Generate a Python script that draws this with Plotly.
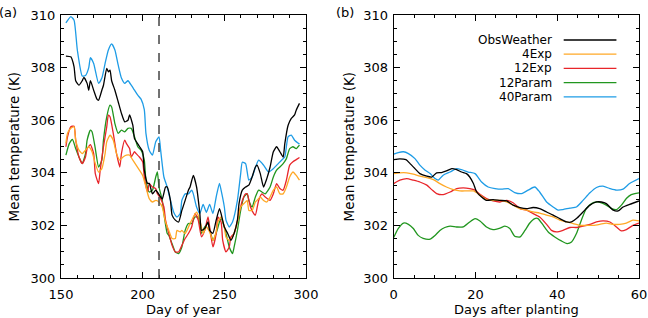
import plotly.graph_objects as go

# ---------------- data: panel (a) ----------------
series_names = ["ObsWeather", "4Exp", "12Exp", "12Param", "40Param"]
series_colors = ["#000000", "#FFA826", "#E8252A", "#21961F", "#1E9CE6"]

obs_day = [153, 156, 158, 159, 161, 163, 164, 166, 167, 168, 170, 172, 173, 175, 176, 178, 179, 180, 181, 183, 185, 187, 189, 191, 192, 194, 195, 197, 198, 200, 201, 203, 204, 206, 208, 209, 211, 212, 214, 215, 217, 218, 220, 222, 224, 226, 228, 229, 231, 233, 235, 236, 238, 240, 241, 243, 245, 247, 248, 250, 252, 254, 256, 258, 259, 261, 263, 265, 267, 269, 270, 272, 274, 276, 278, 280, 282, 284, 286, 287, 289, 291, 293, 294, 296]
obs_val = [308.44, 308.41, 308.03, 307.5, 307.33, 307.5, 307.63, 307.4, 307.14, 307.5, 307.14, 306.8, 306.76, 307.14, 307.33, 307.97, 307.84, 307.9, 307.5, 307.14, 306.7, 306.26, 305.94, 306.0, 306.2, 305.8, 305.3, 305.1, 305.0, 304.8, 304.1, 303.6, 303.6, 303.2, 303.34, 303.27, 303.08, 303.0, 303.46, 303.46, 302.95, 302.39, 302.2, 302.13, 302.57, 302.95, 303.34, 303.46, 303.9, 303.46, 302.45, 301.81, 301.88, 302.13, 301.81, 301.7, 302.2, 302.64, 302.45, 301.94, 301.7, 301.43, 301.7, 302.2, 302.83, 303.34, 303.46, 303.53, 303.84, 304.22, 304.29, 303.97, 303.46, 303.78, 304.22, 304.8, 304.99, 304.8, 304.6, 305.1, 305.8, 306.07, 306.2, 306.38, 306.64]

exp4_day = [153, 154, 156, 158, 159, 161, 163, 165, 167, 169, 171, 173, 175, 177, 178, 180, 182, 184, 186, 188, 190, 192, 194, 196, 198, 200, 202, 204, 206, 208, 210, 212, 214, 216, 218, 220, 221, 223, 224, 226, 229, 231, 233, 235, 237, 239, 241, 243, 245, 246, 248, 250, 251, 253, 255, 258, 260, 262, 264, 265, 267, 269, 270, 272, 274, 276, 278, 280, 282, 284, 286, 288, 290, 292, 294, 296]
exp4_val = [305.12, 305.5, 305.69, 305.75, 305.24, 304.86, 304.73, 304.86, 304.99, 304.8, 304.35, 304.03, 304.16, 304.73, 305.18, 305.43, 305.24, 304.73, 304.48, 304.6, 304.67, 304.67, 304.48, 304.29, 304.1, 303.9, 303.46, 303.02, 302.89, 302.95, 302.89, 302.7, 302.13, 301.81, 301.5, 301.5, 301.81, 301.75, 301.81, 301.69, 302.07, 302.32, 302.5, 302.2, 301.69, 301.94, 301.75, 301.43, 301.75, 302.13, 302.32, 301.94, 301.56, 301.43, 301.56, 302.13, 302.7, 302.83, 302.95, 302.57, 302.57, 302.89, 302.95, 303.08, 302.95, 302.89, 303.08, 303.34, 303.46, 303.2, 303.2, 303.46, 303.84, 304.03, 303.9, 303.72]

exp12_day = [153, 154, 156, 158, 159, 161, 163, 165, 166, 168, 170, 171, 173, 174, 176, 178, 179, 180, 182, 184, 186, 187, 189, 190, 192, 193, 195, 196, 198, 200, 201, 203, 204, 206, 208, 209, 211, 213, 214, 216, 218, 220, 222, 224, 226, 228, 230, 232, 234, 236, 238, 240, 241, 243, 245, 246, 248, 249, 251, 253, 254, 256, 259, 261, 263, 264, 266, 268, 269, 271, 273, 275, 278, 280, 282, 284, 286, 288, 290, 292, 294, 296]
exp12_val = [304.99, 305.37, 305.75, 305.77, 305.24, 304.6, 304.35, 304.6, 304.92, 305.07, 304.73, 303.97, 303.59, 304.1, 304.99, 305.75, 306.19, 306.13, 305.5, 304.73, 304.22, 304.73, 305.24, 305.12, 304.92, 304.6, 304.8, 304.73, 304.6, 304.42, 303.84, 303.27, 303.59, 303.46, 303.4, 303.2, 303.02, 302.7, 302.2, 301.69, 301.24, 300.99, 300.99, 301.24, 301.5, 301.69, 301.94, 302.45, 302.2, 301.56, 301.81, 302.32, 301.94, 301.18, 301.69, 302.32, 302.13, 301.43, 300.99, 301.18, 301.56, 301.69, 302.45, 302.95, 303.2, 303.2, 302.7, 302.45, 302.39, 302.95, 303.2, 303.08, 302.95, 303.2, 303.59, 303.4, 303.34, 303.72, 304.29, 304.42, 304.5, 304.58]

par12_day = [153, 155, 157, 159, 161, 163, 165, 166, 168, 169, 171, 173, 175, 176, 178, 180, 181, 183, 185, 187, 189, 191, 193, 195, 197, 199, 201, 202, 204, 206, 208, 209, 210, 212, 213, 215, 216, 218, 220, 222, 224, 226, 228, 230, 232, 234, 236, 238, 240, 242, 243, 245, 247, 248, 250, 251, 253, 255, 256, 258, 260, 262, 264, 265, 267, 269, 271, 273, 275, 278, 280, 282, 284, 286, 288, 290, 292, 294, 296]
par12_val = [304.67, 305.1, 305.27, 304.92, 304.6, 304.35, 304.73, 305.24, 305.62, 305.56, 304.92, 304.22, 304.48, 305.24, 306.13, 306.57, 306.5, 305.87, 305.5, 305.62, 305.56, 305.69, 305.69, 305.37, 304.99, 304.86, 304.48, 303.72, 303.27, 303.34, 303.84, 304.03, 303.46, 302.95, 302.45, 301.7, 301.62, 301.3, 300.99, 300.93, 301.18, 301.81, 302.07, 302.07, 302.32, 302.32, 301.7, 301.94, 302.07, 301.62, 301.43, 301.7, 302.13, 302.26, 301.94, 301.7, 301.18, 300.93, 301.18, 301.81, 302.57, 303.08, 303.2, 302.95, 302.7, 303.08, 303.34, 303.27, 303.2, 303.46, 303.84, 304.1, 304.22, 304.35, 304.54, 304.92, 304.99, 304.92, 305.05]

par40_day = [153, 156, 158, 160, 163, 165, 167, 168, 170, 173, 175, 177, 179, 181, 183, 185, 187, 189, 191, 193, 195, 197, 199, 201, 202, 204, 206, 208, 210, 211, 213, 215, 217, 219, 221, 223, 224, 226, 228, 230, 231, 233, 235, 237, 239, 241, 243, 245, 247, 248, 250, 251, 253, 255, 258, 260, 261, 263, 265, 267, 269, 271, 274, 277, 280, 283, 285, 287, 289, 291, 293, 296]
par40_val = [309.7, 309.94, 309.8, 308.67, 307.68, 307.7, 308.0, 308.38, 308.16, 307.4, 307.6, 308.16, 308.67, 308.9, 308.67, 308.1, 307.6, 307.4, 307.5, 307.33, 307.14, 306.95, 306.8, 306.4, 305.5, 304.86, 304.67, 305.18, 305.37, 304.86, 303.84, 303.46, 302.95, 302.5, 302.32, 302.45, 302.95, 303.2, 303.2, 303.34, 303.2, 302.7, 302.45, 302.8, 302.5, 302.8, 302.45, 303.08, 303.6, 303.34, 302.7, 302.2, 301.94, 302.13, 302.95, 303.97, 304.4, 304.35, 303.72, 303.84, 304.2, 304.48, 304.29, 304.03, 304.16, 304.35, 304.48, 304.6, 305.37, 305.43, 305.24, 305.09]

# ---------------- data: panel (b) ----------------
b_obs_day = [0, 1.5, 3, 4, 5.2, 6.4, 8.1, 9.3, 10.5, 11.7, 12.9, 14.2, 15.4, 16.6, 17.8, 18.6, 19.5, 20.3, 21.5, 22.7, 24.3, 26, 27.6, 29.2, 30.9, 32.5, 34.1, 35.7, 37.4, 39, 40.6, 42.3, 43.5, 44.7, 46.3, 48, 49.6, 50.8, 52, 53.7, 54.9, 56.1, 57.7, 60]
b_obs_val = [304.5, 304.53, 304.5, 304.35, 304.16, 303.97, 303.87, 303.84, 304.0, 304.01, 304.07, 304.16, 304.12, 304.03, 303.97, 303.84, 303.59, 303.27, 303.08, 302.95, 302.98, 302.95, 302.93, 302.77, 302.68, 302.64, 302.68, 302.64, 302.51, 302.39, 302.26, 302.13, 302.13, 302.26, 302.51, 302.77, 302.89, 302.89, 302.83, 302.58, 302.55, 302.7, 302.8, 302.93]

b_exp4_day = [0, 1.5, 3.2, 4.8, 6.4, 8.1, 9.7, 11.3, 12.9, 14.6, 16.2, 17.8, 19.5, 21.1, 22.7, 24.3, 26, 27.6, 29.2, 30.9, 32.5, 34.1, 35.7, 37.4, 39, 40.6, 42.3, 43.9, 45.5, 47.2, 48.8, 50.4, 52, 53.7, 55.3, 56.9, 58.5, 60]
b_exp4_val = [303.97, 304.0, 304.0, 303.95, 303.87, 303.82, 303.74, 303.59, 303.46, 303.36, 303.31, 303.31, 303.31, 303.15, 302.98, 302.95, 302.95, 302.89, 302.77, 302.64, 302.58, 302.51, 302.47, 302.39, 302.32, 302.2, 302.13, 302.07, 302.0, 302.0, 302.0, 302.04, 302.09, 302.04, 302.04, 302.09, 302.2, 302.17]

b_exp12_day = [0, 1.5, 3.2, 4.8, 6.4, 8.1, 9.3, 10.5, 12.1, 13.8, 15.4, 17, 18.6, 19.9, 21.1, 22.7, 24.3, 26, 27.6, 29.2, 30.9, 32.5, 34.1, 35.7, 37.4, 38.6, 39.8, 41.4, 43.1, 44.7, 46.3, 48, 49.6, 51.2, 52.9, 54.5, 55.7, 56.9, 58.5, 60]
b_exp12_val = [303.59, 303.72, 303.78, 303.72, 303.65, 303.53, 303.36, 303.21, 303.17, 303.27, 303.4, 303.43, 303.4, 303.34, 303.18, 303.02, 302.93, 302.89, 302.95, 302.86, 302.64, 302.58, 302.45, 302.32, 302.04, 301.81, 301.75, 301.81, 301.92, 301.92, 301.97, 302.04, 302.13, 302.17, 302.13, 301.94, 301.79, 301.84, 302.0, 302.09]

b_par12_day = [0, 1.1, 2.4, 3.6, 4.8, 6, 7.2, 8.9, 10.1, 11.3, 12.5, 13.8, 15.4, 17, 18.6, 19.9, 21.1, 22.7, 24.3, 26, 27.2, 28.4, 29.6, 30.9, 32.1, 33.3, 34.5, 35.3, 36.6, 37.8, 39.4, 41, 42.4, 43.5, 44.7, 45.9, 47.1, 48.4, 49.6, 50.8, 52, 53.3, 54.5, 55.7, 56.9, 58.1, 60]
b_par12_val = [301.54, 301.88, 302.09, 302.04, 301.88, 301.62, 301.51, 301.48, 301.62, 301.81, 301.92, 301.97, 301.94, 301.94, 302.13, 302.26, 302.17, 301.94, 301.84, 301.9, 301.97, 301.88, 301.59, 301.56, 301.81, 302.09, 302.26, 302.26, 302.0, 301.75, 301.56, 301.41, 301.31, 301.37, 301.69, 302.2, 302.64, 302.83, 302.89, 302.86, 302.77, 302.64, 302.6, 302.77, 303.02, 303.17, 303.24]

b_par40_day = [0, 1.1, 2.4, 3.6, 5.2, 6.4, 7.7, 8.9, 10.1, 10.9, 12.1, 13.8, 15.4, 16.6, 18.2, 19.9, 21.5, 23.1, 24.8, 26.4, 28, 29.6, 31.3, 32.9, 34.5, 35.7, 37.4, 39, 40.2, 41.4, 43.1, 44.7, 46.3, 48, 49.6, 51.2, 52.9, 54.5, 56.1, 57.7, 60]
b_par40_val = [304.71, 304.77, 304.8, 304.73, 304.54, 304.29, 304.1, 303.97, 303.78, 303.72, 303.91, 304.03, 304.16, 304.12, 304.03, 303.97, 303.65, 303.46, 303.4, 303.38, 303.4, 303.25, 303.21, 303.34, 303.46, 303.27, 302.89, 302.7, 302.58, 302.6, 302.66, 302.7, 302.95, 303.24, 303.44, 303.49, 303.4, 303.34, 303.38, 303.59, 303.78]

transplant_day = 210
x_a_ticks = [150, 200, 250, 300]
x_b_ticks = [0, 20, 40, 60]
y_ticks = [300, 302, 304, 306, 308, 310]
x_a_title = "Day of year"
x_b_title = "Days after planting"
y_title = "Mean temperature (K)"

panel_a = [(obs_day, obs_val), (exp4_day, exp4_val), (exp12_day, exp12_val),
           (par12_day, par12_val), (par40_day, par40_val)]
panel_b = [(b_obs_day, b_obs_val), (b_exp4_day, b_exp4_val), (b_exp12_day, b_exp12_val),
           (b_par12_day, b_par12_val), (b_par40_day, b_par40_val)]

FONT = "DejaVu Sans"
BLACK = "#000000"
fig = go.Figure()

order = [4, 3, 2, 1, 0]
for i in order:
    d, v = panel_a[i]
    fig.add_trace(go.Scatter(x=d, y=v, mode="lines", name=series_names[i],
                             line=dict(color=series_colors[i], width=1.3, shape="spline", smoothing=0.5),
                             xaxis="x", yaxis="y", showlegend=False))
for i in order:
    d, v = panel_b[i]
    fig.add_trace(go.Scatter(x=d, y=v, mode="lines", name=series_names[i],
                             line=dict(color=series_colors[i], width=1.3, shape="spline", smoothing=0.6),
                             xaxis="x2", yaxis="y2", showlegend=False))

axis_common = dict(showgrid=False, zeroline=False, showline=True, linecolor=BLACK, linewidth=1,
                   mirror="allticks", ticks="inside", ticklen=6, tickwidth=1, tickcolor=BLACK,
                   automargin=False,
                   tickfont=dict(family=FONT, size=13, color=BLACK))

fig.update_layout(
    width=648, height=318,
    margin=dict(l=61, r=9, t=15, b=40),
    plot_bgcolor="white", paper_bgcolor="white",
    showlegend=False,
    font=dict(family=FONT, color=BLACK),
    xaxis=dict(domain=[0, 0.4239], range=[150, 300], tickvals=x_a_ticks,
               minor=dict(dtick=10, ticks="inside", ticklen=3, tickcolor=BLACK),
               ticklabelstandoff=4, anchor="y", **axis_common),
    yaxis=dict(domain=[0, 1], range=[300, 310], tickvals=y_ticks,
               minor=dict(dtick=0.5, ticks="inside", ticklen=3, tickcolor=BLACK),
               ticklabelstandoff=2, anchor="x", **axis_common),
    xaxis2=dict(domain=[0.5756, 1], range=[0, 60], tickvals=x_b_ticks,
                minor=dict(dtick=5, ticks="inside", ticklen=3, tickcolor=BLACK),
                ticklabelstandoff=4, anchor="y2", **axis_common),
    yaxis2=dict(domain=[0, 1], range=[300, 310], tickvals=y_ticks,
                minor=dict(dtick=0.5, ticks="inside", ticklen=3, tickcolor=BLACK),
                ticklabelstandoff=2, anchor="x2", **axis_common),
)

# axis titles as annotations (placed like the original)
title_font = dict(family=FONT, size=13, color=BLACK)
xt_y = -(318 - 277.7) / 262.7
fig.add_annotation(text=x_a_title, xref="x domain", yref="paper", x=0.5, y=xt_y,
                   xanchor="center", yanchor="bottom", showarrow=False, font=title_font, borderpad=0)
fig.add_annotation(text=x_b_title, xref="x2 domain", yref="paper", x=0.5, y=xt_y,
                   xanchor="center", yanchor="bottom", showarrow=False, font=title_font, borderpad=0)
fig.add_annotation(text=y_title, xref="paper", yref="y domain", x=(13 - 61) / 578, y=0.5,
                   xanchor="center", yanchor="middle", textangle=-90, showarrow=False,
                   font=dict(family=FONT, size=13.5, color=BLACK))
fig.add_annotation(text=y_title, xref="paper", yref="y2 domain", x=(348 - 61) / 578, y=0.5,
                   xanchor="center", yanchor="middle", textangle=-90, showarrow=False,
                   font=dict(family=FONT, size=13.5, color=BLACK))

# transplanting day dashed line
fig.add_shape(type="line", xref="x", yref="y domain", x0=transplant_day, x1=transplant_day,
              y0=0, y1=1, line=dict(color="#444", width=1.5, dash="dash"))

# panel labels
fig.add_annotation(text="(a)", xref="paper", yref="paper", x=-64 / 578, y=1.01, xanchor="left",
                   yanchor="middle", showarrow=False, font=dict(family=FONT, size=13, color=BLACK))
fig.add_annotation(text="(b)", xref="paper", yref="paper", x=(334 - 61) / 578, y=1.01, xanchor="left",
                   yanchor="middle", showarrow=False, font=dict(family=FONT, size=13, color=BLACK))

# custom legend (text right-aligned, line after) in panel (b)
leg_y = [0.905, 0.851, 0.797, 0.743, 0.689]
for i, name in enumerate(series_names):
    fig.add_annotation(text=name, xref="x2 domain", yref="y2 domain", x=0.65, y=leg_y[i],
                       xanchor="right", yanchor="middle", showarrow=False, borderpad=0,
                       font=dict(family=FONT, size=12, color=BLACK))
    fig.add_shape(type="line", xref="x2 domain", yref="y2 domain", x0=0.693, x1=0.908,
                  y0=leg_y[i], y1=leg_y[i], line=dict(color=series_colors[i], width=1.3))

fig.write_html("out.html")
